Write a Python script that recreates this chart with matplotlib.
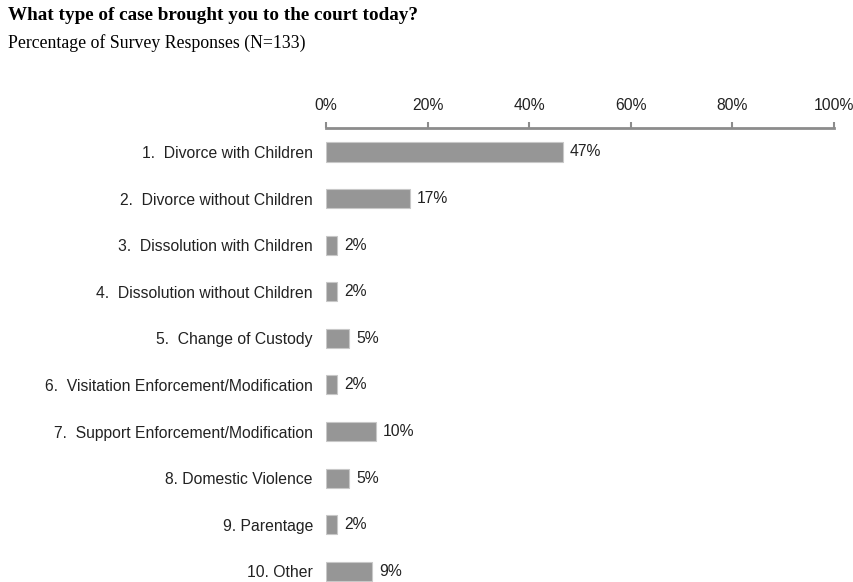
import matplotlib.pyplot as plt

# categorias e percentuais (N=133)
categorias = [
    "1.  Divorce with Children",
    "2.  Divorce without Children",
    "3.  Dissolution with Children",
    "4.  Dissolution without Children",
    "5.  Change of Custody",
    "6.  Visitation Enforcement/Modification",
    "7.  Support Enforcement/Modification",
    "8. Domestic Violence",
    "9. Parentage",
    "10. Other",
]
percentuais = [46.62, 16.54, 2.26, 2.26, 4.51, 2.26, 9.77, 4.51, 2.26, 9.02]
rotulos = ["47%", "17%", "2%", "2%", "5%", "2%", "10%", "5%", "2%", "9%"]
ticks_x = [0, 20, 40, 60, 80, 100]

fonte = "Liberation Sans"
tam = 11.3

fig = plt.figure(figsize=(8.54, 5.82), dpi=100)
ax = fig.add_axes([326 / 854, 0, (834 - 326) / 854, (582 - 128) / 582])

pos = list(range(len(categorias)))
ax.barh(pos, percentuais, height=0.41, color="#969696", edgecolor="#c8c8c8", linewidth=0.8)

for p, v, r in zip(pos, percentuais, rotulos):
    ax.text(v + 1.4, p, r, va="center", ha="left", fontsize=tam,
            family=fonte, color="#222222")

ax.set_xlim(0, 100)
ax.set_ylim(9.23, -0.515)
ax.set_yticks(pos)
ax.set_yticklabels(categorias, fontsize=tam, family=fonte, color="#222222")
ax.tick_params(axis="y", length=0, pad=9.4)

ax.xaxis.tick_top()
ax.set_xticks(ticks_x)
ax.set_xticklabels([f"{t}%" for t in ticks_x], fontsize=tam, family=fonte, color="#222222")
ax.tick_params(axis="x", direction="out", length=4, width=1.5, color="#8c8c8c", pad=6.5)

for lado in ["left", "right", "bottom"]:
    ax.spines[lado].set_visible(False)
ax.spines["top"].set_color("#8c8c8c")
ax.spines["top"].set_linewidth(2)

fig.text(8 / 854, 1 - 16 / 582, "What type of case brought you to the court today?",
         fontsize=13.8, fontweight="bold", family="Liberation Serif", va="center", ha="left")
fig.text(8 / 854, 1 - 43 / 582, "Percentage of Survey Responses (N=133)",
         fontsize=12.8, family="Liberation Serif", va="center", ha="left")

plt.savefig("out.png", dpi=100)
